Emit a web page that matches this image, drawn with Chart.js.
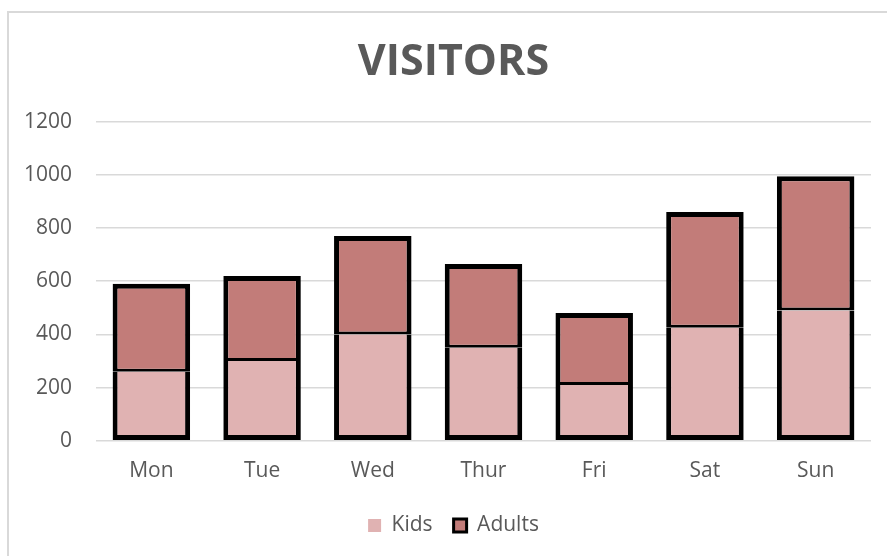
<!DOCTYPE html>
<html>
<head>
<meta charset="utf-8">
<script src="https://cdn.jsdelivr.net/npm/chart.js@4.4.1/dist/chart.umd.min.js"></script>
<style>
  html, body { margin: 0; padding: 0; background: #fff; overflow: hidden; }
  #wrap { position: relative; width: 887px; height: 556px; }
  #frame { position: absolute; left: 7px; top: 11px; width: 920px; height: 600px; border: 2px solid #d9d9d9; box-sizing: border-box; pointer-events: none; }
  canvas { position: absolute; left: 0; top: 0; }
</style>
</head>
<body>
<div id="wrap">
  <canvas id="c" width="887" height="556"></canvas>
  <div id="frame"></div>
</div>
<script>
const categories = ["Mon", "Tue", "Wed", "Thur", "Fri", "Sat", "Sun"];
const kids = [260, 300, 400, 350, 210, 425, 490];
const adults = [330, 320, 370, 315, 270, 435, 505];
const yTicks = [0, 200, 400, 600, 800, 1000, 1200];
const chartTitle = "VISITORS";

const FONT = "'Open Sans', 'Noto Sans', sans-serif";
const TEXT = "#595959";
const KIDS_COLOR = "#e0b2b2";
const ADULTS_COLOR = "#c27c79";

// shift title and legend boxes so they are centred like the reference
const shiftBoxes = {
  id: "shiftBoxes",
  afterLayout(chart) {
    if (chart.titleBlock) chart.titleBlock.left += 36;
    if (chart.legend) { chart.legend.left += 36; }
  }
};

new Chart(document.getElementById("c"), {
  type: "bar",
  data: {
    labels: categories,
    datasets: [
      {
        label: "Kids",
        data: kids,
        backgroundColor: KIDS_COLOR,
        borderColor: "#000",
        borderWidth: { left: 5, right: 5, bottom: 5, top: 0 },
        borderSkipped: false,
        barPercentage: 0.7,
        categoryPercentage: 1.0
      },
      {
        label: "Adults",
        data: adults,
        backgroundColor: ADULTS_COLOR,
        borderColor: "#000",
        borderWidth: { left: 5, right: 5, top: 5, bottom: 3 },
        borderSkipped: false,
        barPercentage: 0.7,
        categoryPercentage: 1.0
      }
    ]
  },
  plugins: [shiftBoxes],
  options: {
    responsive: false,
    animation: false,
    layout: { padding: { left: 0, right: 16, top: 0, bottom: 10 } },
    plugins: {
      title: {
        display: true,
        text: chartTitle,
        color: TEXT,
        font: { family: FONT, size: 43, weight: "bold" },
        padding: { top: 37, bottom: 33 }
      },
      legend: {
        position: "bottom",
        labels: {
          color: TEXT,
          font: { family: FONT, size: 21 },
          boxWidth: 13,
          boxHeight: 13,
          padding: 21,
          generateLabels: (chart) => chart.data.datasets.map((ds, i) => ({
            text: ds.label,
            fillStyle: ds.backgroundColor,
            strokeStyle: "#000",
            lineWidth: i === 0 ? 0 : 3,
            hidden: false,
            datasetIndex: i,
            fontColor: TEXT
          }))
        }
      },
      tooltip: { enabled: false }
    },
    scales: {
      x: {
        stacked: true,
        grid: { display: false },
        border: { display: false },
        ticks: { color: TEXT, font: { family: FONT, size: 21 }, padding: 10 }
      },
      y: {
        stacked: true,
        min: 0,
        max: 1200,
        afterBuildTicks: (scale) => { scale.ticks = yTicks.map(v => ({ value: v })); },
        afterFit: (scale) => { scale.width = 96; },
        grid: { color: "#d9d9d9", lineWidth: 1.5, drawTicks: false },
        border: { display: false },
        ticks: { color: TEXT, font: { family: FONT, size: 21 }, padding: 24, callback: (v) => String(v) }
      }
    }
  }
});
</script>
</body>
</html>
